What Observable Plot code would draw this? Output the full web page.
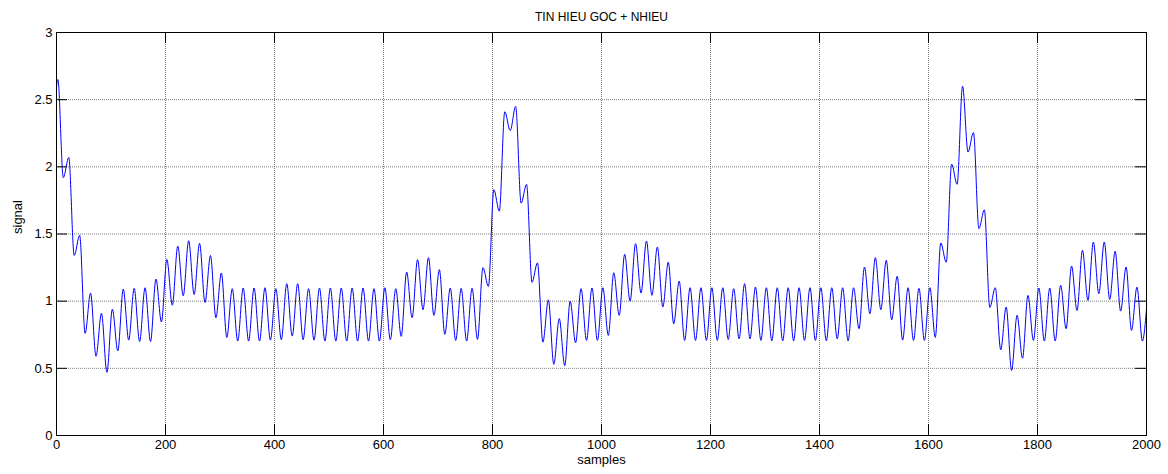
<!DOCTYPE html>
<html>
<head>
<meta charset="utf-8">
<script src="https://cdn.jsdelivr.net/npm/d3@7"></script>
<script src="https://cdn.jsdelivr.net/npm/@observablehq/plot@0.6"></script>
<style>
  body { margin: 0; background: #fff; }
  #chart svg { display: block; }
</style>
</head>
<body>
<div id="chart"></div>
<script>
// ---- Data ----
const titleText = "TIN HIEU GOC + NHIEU";
const xLabel = "samples";
const yLabel = "signal";
const xTicks = [0, 200, 400, 600, 800, 1000, 1200, 1400, 1600, 1800, 2000];
const yTicks = [0, 0.5, 1, 1.5, 2, 2.5, 3];

// signal value at the first and last sample
const firstSample = 0, firstValue = 2.60;
const lastSample = 2000, lastValue = 0.944;

// signal values at each noise peak / trough (every 10 samples, starting at sample 2.5)
const extremaStart = 2.5, extremaStep = 10;
const values0to500 = [
  2.65, 1.92, 2.07, 1.34, 1.49, 0.76, 1.06, 0.59, 0.91, 0.47,
  0.94, 0.63, 1.09, 0.71, 1.095, 0.70, 1.10, 0.70, 1.165, 0.845,
  1.31, 0.97, 1.41, 1.04, 1.45, 1.05, 1.43, 0.99, 1.34, 0.877,
  1.21, 0.73, 1.093, 0.703, 1.098, 0.703, 1.098, 0.703, 1.10, 0.71,
  1.093, 0.713, 1.13, 0.74, 1.13, 0.713, 1.093, 0.71, 1.098, 0.703
];
const values500to1000 = [
  1.098, 0.703, 1.098, 0.703, 1.098, 0.703, 1.098, 0.703, 1.093, 0.703,
  1.10, 0.713, 1.093, 0.738, 1.217, 0.877, 1.309, 0.937, 1.324, 0.894,
  1.235, 0.753, 1.098, 0.708, 1.095, 0.703, 1.095, 0.715, 1.25, 1.11,
  1.83, 1.67, 2.41, 2.27, 2.45, 1.73, 1.87, 1.14, 1.285, 0.695,
  1.01, 0.53, 0.87, 0.52, 1.0, 0.69, 1.093, 0.708, 1.098, 0.708
];
const values1000to1500 = [
  1.10, 0.745, 1.212, 0.894, 1.349, 1.0, 1.428, 1.06, 1.448, 1.043,
  1.403, 0.956, 1.29, 0.832, 1.15, 0.708, 1.10, 0.708, 1.10, 0.708,
  1.10, 0.708, 1.10, 0.715, 1.093, 0.72, 1.13, 0.72, 1.105, 0.708,
  1.10, 0.705, 1.10, 0.705, 1.10, 0.705, 1.10, 0.708, 1.10, 0.708,
  1.10, 0.705, 1.10, 0.72, 1.10, 0.705, 1.10, 0.795, 1.254, 0.907
];
const values1500to2000 = [
  1.324, 0.937, 1.304, 0.862, 1.185, 0.71, 1.10, 0.708, 1.095, 0.708,
  1.10, 0.73, 1.433, 1.29, 2.02, 1.87, 2.60, 2.11, 2.255, 1.54,
  1.68, 0.953, 1.10, 0.638, 0.956, 0.484, 0.894, 0.575, 1.043, 0.708,
  1.098, 0.703, 1.098, 0.703, 1.118, 0.795, 1.262, 0.931, 1.379, 1.006,
  1.44, 1.056, 1.44, 1.013, 1.371, 0.926, 1.254, 0.782, 1.105, 0.703
];

const extrema = [...values0to500, ...values500to1000, ...values1000to1500, ...values1500to2000];
const data = [
  {n: firstSample, v: firstValue},
  ...extrema.map((v, k) => ({n: extremaStart + k * extremaStep, v})),
  {n: lastSample, v: lastValue}
];

// ---- Layout ----
const W = 1168, H = 474;
const mL = 56, mR = 22, mT = 32, mB = 39;
const plotW = W - mL - mR, plotH = H - mT - mB;
const tickLen = 11;
const font = "'Liberation Sans', Arial, Helvetica, sans-serif";
const gridStyle = {stroke: "#7a7a7a", strokeWidth: 1, strokeDasharray: "1,1"};
const fmt = d => String(d);

const chart = Plot.plot({
  width: W, height: H,
  marginLeft: mL, marginRight: mR, marginTop: mT, marginBottom: mB,
  style: {fontFamily: font, fontSize: "13px", background: "#fff", color: "#000", overflow: "visible"},
  x: {domain: [0, 2000], label: null},
  y: {domain: [0, 3], label: null},
  marks: [
    Plot.ruleX(xTicks.slice(1, -1), {x: d => d, ...gridStyle}),
    Plot.ruleY(yTicks.slice(1, -1), {y: d => d, ...gridStyle}),
    Plot.line(data, {x: "n", y: "v", stroke: "#0000ff", strokeWidth: 1, curve: "monotone-x"}),
    Plot.frame({stroke: "#000", strokeWidth: 1}),
    Plot.tickX(xTicks, {x: d => d, stroke: "#000", insetTop: plotH - tickLen}),
    Plot.tickX(xTicks, {x: d => d, stroke: "#000", insetBottom: plotH - tickLen}),
    Plot.tickY(yTicks, {y: d => d, stroke: "#000", insetRight: plotW - tickLen}),
    Plot.tickY(yTicks, {y: d => d, stroke: "#000", insetLeft: plotW - tickLen}),
    Plot.axisX(xTicks, {anchor: "bottom", tickSize: 0, tickPadding: 4, tickFormat: fmt, label: null, fontSize: 13}),
    Plot.axisY(yTicks, {anchor: "left", tickSize: 0, tickPadding: 4, tickFormat: fmt, label: null, fontSize: 13}),
    Plot.text([titleText], {frameAnchor: "top", dy: -20, fontSize: 12, fill: "#000"}),
    Plot.text([xLabel], {frameAnchor: "bottom", dy: 28, fontSize: 13, fill: "#000"}),
    Plot.text([yLabel], {frameAnchor: "left", dx: -39, rotate: -90, fontSize: 13, fill: "#000"})
  ]
});
document.getElementById("chart").appendChild(chart);
</script>
</body>
</html>
